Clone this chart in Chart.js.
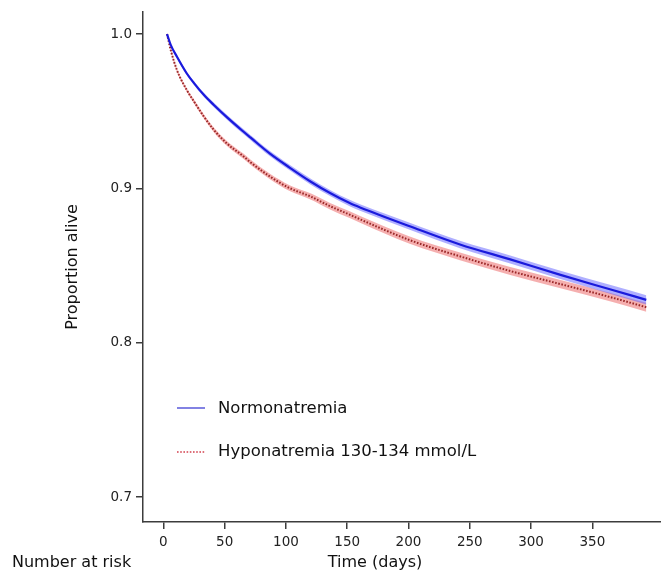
<!DOCTYPE html>
<html>
<head>
<meta charset="utf-8">
<title>Proportion alive</title>
<script src="https://cdn.jsdelivr.net/npm/chart.js@4.4.0/dist/chart.umd.min.js"></script>
<style>
    html, body { margin: 0; padding: 0; background: #fff; }
    #wrap { position: relative; width: 661px; height: 575px; }
</style>
</head>
<body>
<div id="wrap"><canvas id="kmChart" width="661" height="575"></canvas></div>
<script>
// --- Data ---
const seriesNames = ['Normonatremia', 'Hyponatremia 130-134 mmol/L'];
const days = [3, 6, 11, 19, 25, 33, 41, 52, 65, 71, 87, 103, 120, 136, 152, 161, 201, 242, 283, 324, 365, 394];
const normoSurv = [1.000, 0.9930, 0.9854, 0.9746, 0.9682, 0.9606, 0.9542, 0.9460, 0.9370, 0.9330, 0.9225, 0.9135,
                   0.9045, 0.8970, 0.8905, 0.8875, 0.8755, 0.8637, 0.8540, 0.8440, 0.8345, 0.8278];
const hypoSurv  = [1.000, 0.9897, 0.9768, 0.9639, 0.9563, 0.9466, 0.9381, 0.9290, 0.9210, 0.9170, 0.9077, 0.9002,
                   0.8948, 0.8885, 0.8830, 0.8798, 0.8665, 0.8560, 0.8465, 0.8380, 0.8295, 0.8230];
// half width of the shaded confidence band
const normoCI = [0.0004, 0.0008, 0.0010, 0.0011, 0.0012, 0.0013, 0.0014, 0.0015, 0.0016, 0.0016, 0.0017, 0.0018,
                 0.0019, 0.0020, 0.0021, 0.0021, 0.0023, 0.0024, 0.0026, 0.0027, 0.0029, 0.0030];
const hypoCI  = [0.0004, 0.0009, 0.0011, 0.0012, 0.0013, 0.0014, 0.0015, 0.0016, 0.0017, 0.0017, 0.0018, 0.0019,
                 0.0020, 0.0021, 0.0022, 0.0022, 0.0024, 0.0025, 0.0026, 0.0027, 0.0028, 0.0029];
const xTicks = [0, 50, 100, 150, 200, 250, 300, 350];
const yTicks = [0.7, 0.8, 0.9, 1.0];

const FONT = "'DejaVu Sans', sans-serif";
const AXIS_COLOR = '#3c3c3c';

const toPoints = (vals, off, sign) => days.map((d, i) => ({ x: d, y: vals[i] + sign * (off ? off[i] : 0) }));

function bandPair(vals, ci, color) {
    return [
        { data: toPoints(vals, ci, -1), borderWidth: 0, pointRadius: 0, fill: false, order: 2, cubicInterpolationMode: 'monotone' },
        { data: toPoints(vals, ci, 1), borderWidth: 0, pointRadius: 0, fill: '-1', backgroundColor: color, order: 2, cubicInterpolationMode: 'monotone' }
    ];
}

// legend, x title and the "Number at risk" caption drawn straight on the canvas
const extraText = {
    id: 'extraText',
    afterDraw(chart) {
        const ctx = chart.ctx;
        ctx.save();

        // legend
        ctx.lineWidth = 1.6;
        ctx.strokeStyle = '#6262dc';
        ctx.beginPath(); ctx.moveTo(177, 408); ctx.lineTo(205, 408); ctx.stroke();
        ctx.strokeStyle = '#d2404e';
        ctx.setLineDash([1.6, 1.6]);
        ctx.beginPath(); ctx.moveTo(177, 452); ctx.lineTo(205, 452); ctx.stroke();
        ctx.setLineDash([]);

        ctx.fillStyle = '#111';
        ctx.font = '16.5px ' + FONT;
        ctx.textBaseline = 'middle';
        ctx.textAlign = 'left';
        ctx.fillText(seriesNames[0], 218, 409);
        ctx.fillText(seriesNames[1], 218, 452);

        // x axis title
        ctx.font = '16px ' + FONT;
        ctx.textAlign = 'center';
        ctx.fillText('Time (days)', 375, 563);

        // number at risk caption (cut off at the bottom edge)
        ctx.textAlign = 'left';
        ctx.textBaseline = 'alphabetic';
        ctx.fillText('Number at risk', 12, 567);
        ctx.restore();
    }
};

const ctxKm = document.getElementById('kmChart').getContext('2d');
const kmChart = new Chart(ctxKm, {
    type: 'line',
    data: {
        datasets: [
            {
                label: seriesNames[0],
                data: toPoints(normoSurv, null, 0),
                borderColor: '#1a1adc',
                borderWidth: 2.2,
                pointRadius: 0,
                fill: false,
                cubicInterpolationMode: 'monotone',
                order: 0
            },
            {
                label: seriesNames[1],
                data: toPoints(hypoSurv, null, 0),
                borderColor: '#9a2828',
                borderWidth: 2,
                borderDash: [1.6, 1.6],
                pointRadius: 0,
                fill: false,
                cubicInterpolationMode: 'monotone',
                order: 0
            },
            ...bandPair(normoSurv, normoCI, 'rgba(95, 95, 255, 0.5)'),
            ...bandPair(hypoSurv, hypoCI, 'rgba(236, 110, 110, 0.55)')
        ]
    },
    options: {
        responsive: false,
        animation: false,
        devicePixelRatio: 1,
        layout: { padding: { top: 10, right: 0, bottom: 0, left: 0 } },
        plugins: {
            legend: { display: false },
            tooltip: { enabled: false }
        },
        scales: {
            x: {
                type: 'linear',
                min: -16.6,
                max: 406,
                afterFit: (scale) => { scale.height = 53; },
                afterBuildTicks: (scale) => { scale.ticks = xTicks.map(v => ({ value: v })); },
                border: { display: true, color: AXIS_COLOR, width: 1.5 },
                grid: { drawOnChartArea: false, drawTicks: true, tickLength: 7, color: AXIS_COLOR, lineWidth: 1.5 },
                ticks: {
                    padding: 5,
                    maxRotation: 0,
                    autoSkip: false,
                    color: '#222',
                    font: { family: FONT, size: 13.5 }
                }
            },
            y: {
                min: 0.6839,
                max: 1.0142,
                afterFit: (scale) => { scale.width = 143; },
                afterBuildTicks: (scale) => { scale.ticks = yTicks.map(v => ({ value: v })); },
                border: { display: true, color: AXIS_COLOR, width: 1.5 },
                grid: { drawOnChartArea: false, drawTicks: true, tickLength: 7, color: AXIS_COLOR, lineWidth: 1.5 },
                ticks: {
                    padding: 4,
                    color: '#222',
                    font: { family: FONT, size: 13.5 },
                    callback: (v) => v.toFixed(1)
                },
                title: {
                    display: true,
                    text: 'Proportion alive',
                    color: '#111',
                    font: { family: FONT, size: 16 },
                    padding: { top: 63, bottom: 0 }
                }
            }
        }
    },
    plugins: [extraText]
});
</script>
</body>
</html>
